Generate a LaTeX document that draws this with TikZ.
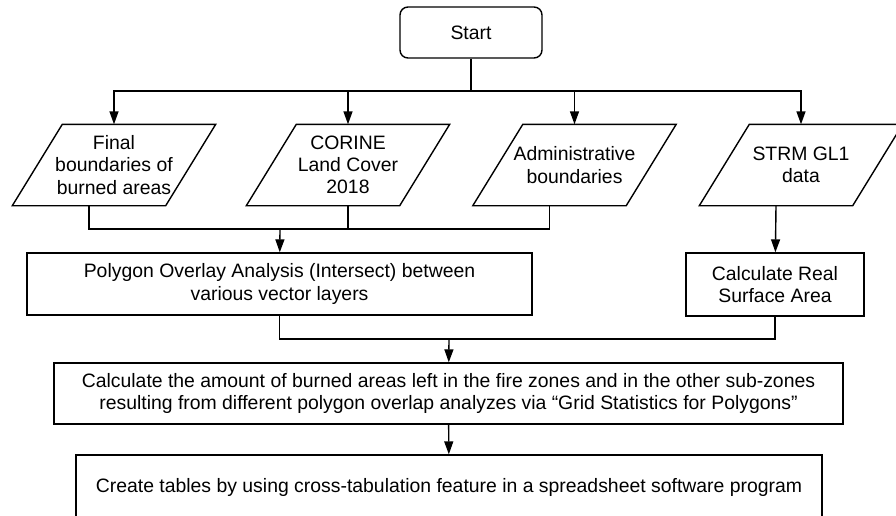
\documentclass[tikz,border=0pt]{standalone}
\usepackage{fontspec}
\setmainfont{Liberation Sans}
\usetikzlibrary{arrows.meta}
\tikzstyle{startbox} = [draw, rounded corners=8pt, minimum width=142pt, minimum height=51pt]
\tikzstyle{data} = [rectangle, minimum width=152pt, minimum height=80pt, inner sep=0pt, align=center,
    append after command={([xshift=-25pt]\tikzlastnode.south west) -- ([xshift=-25pt]\tikzlastnode.south east)
    -- ([xshift=25pt]\tikzlastnode.north east) -- ([xshift=25pt]\tikzlastnode.north west) -- cycle}]
\tikzstyle{process} = [draw, rectangle, align=center]
\tikzstyle{arr} = [-{Triangle[length=13pt,width=9pt]}]

\begin{document}
\begin{tikzpicture}[x=1pt, y=-1pt, line width=1.4pt, font=\fontsize{19.4}{22.3}\selectfont]
    \useasboundingbox (0,0) rectangle (896,515);
    \draw (471,32.5) node[startbox] (start) {Start};
    \draw (114,165) node[data] (burned) {Final\\boundaries of\\burned areas};
    \draw (348,165) node[data] (corine) {CORINE\\Land Cover\\2018};
    \draw (574.5,165) node[data] (admin) {Administrative\\boundaries};
    \draw (801,165) node[data] (strm) {STRM GL1\\data};
    \draw (279.5,284) node[process, minimum width=505pt, minimum height=62pt] (overlay) {Polygon Overlay Analysis (Intersect) between\\various vector layers};
    \draw (775,284.5) node[process, minimum width=178pt, minimum height=63pt] (surface) {Calculate Real\\Surface Area};
    \draw (448.5,393.5) node[process, minimum width=789pt, minimum height=61pt] (amount) {Calculate the amount of burned areas left in the fire zones and in the other sub-zones\\resulting from different polygon overlap analyzes via “Grid Statistics for Polygons”};
    \draw (449,487) node[process, minimum width=746pt, minimum height=64pt] (tables) {Create tables by using cross-tabulation feature in a spreadsheet software program};
    \coordinate (split) at (471,91);
    \coordinate (merge1) at (280,229);
    \coordinate (merge2) at (449,339);
    % start to the four inputs
    \draw (start) -- (split);
    \draw [arr] (split) -| (burned.north);
    \draw [arr] (split) -| (corine.north);
    \draw [arr] (split) -| (admin.north);
    \draw [arr] (split) -| (strm.north);
    % inputs to the overlay
    \draw ([xshift=-25pt]burned.south) |- (merge1);
    \draw ([xshift=-25pt]admin.south) |- (merge1);
    \draw (corine.south) -- (corine.south |- merge1);
    \draw [arr] (merge1) -- (overlay);
    \draw [arr] ([xshift=-25pt]strm.south) -- (surface);
    % to the statistics and the tables
    \draw (overlay) |- (merge2);
    \draw (surface) |- (merge2);
    \draw [arr] (merge2) -- (amount);
    \draw [arr] (amount) -- (tables);
\end{tikzpicture}
\end{document}
